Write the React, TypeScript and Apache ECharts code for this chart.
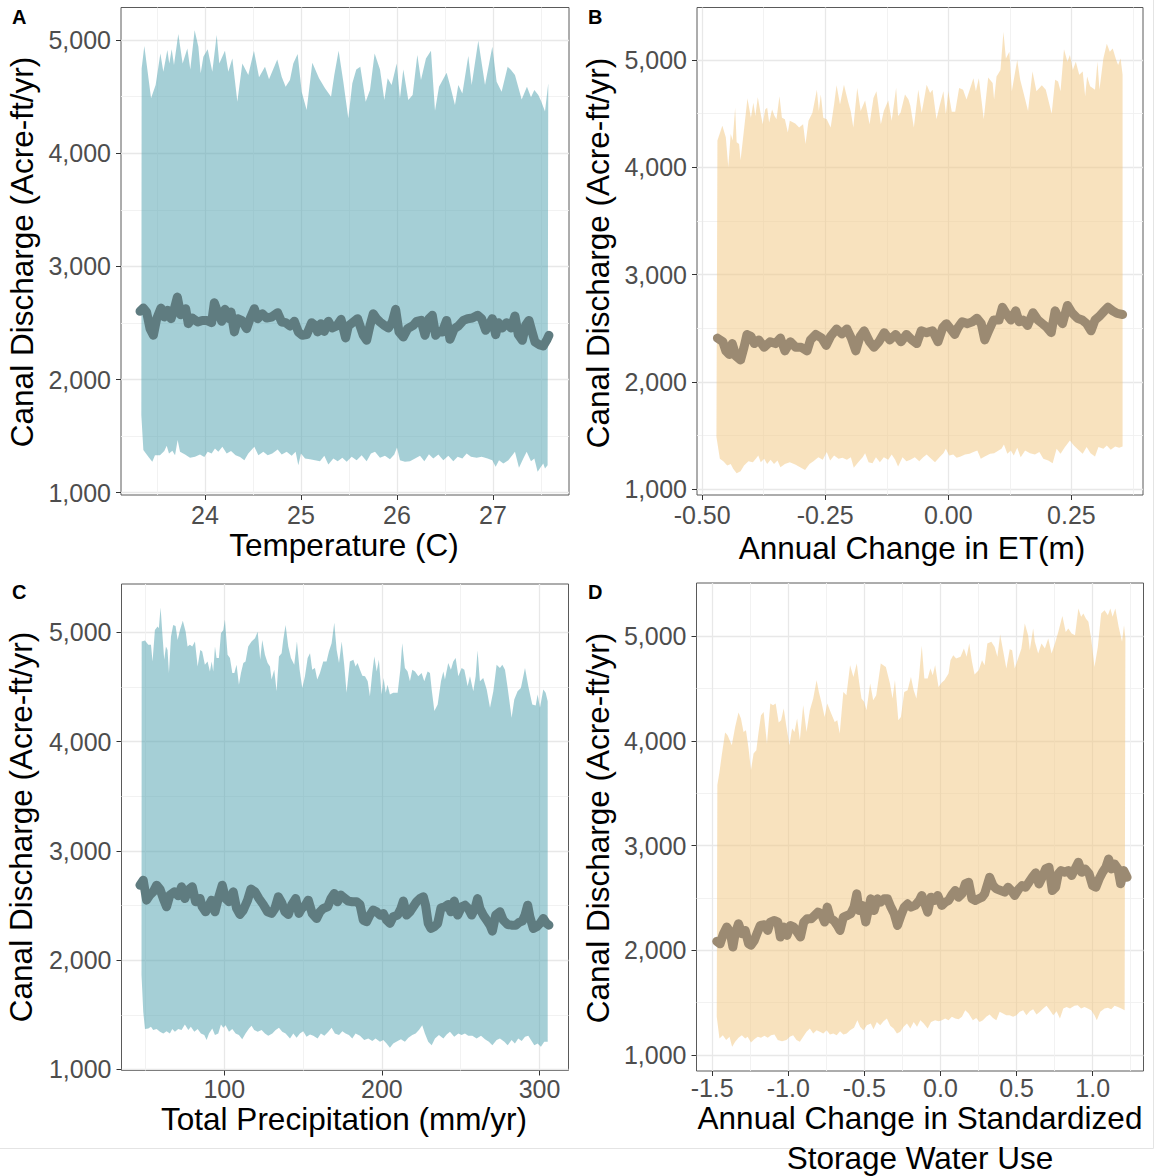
import React, { useEffect, useRef } from 'react';
import * as echarts from 'echarts';

type P = [number, number];

// ---------- Panel A: Temperature ----------
const tempUpper: P[] = [
  [23.340, 4750], [23.368, 4947], [23.438, 4485], [23.486, 4603], [23.535, 4882], [23.566, 4721], [23.608, 4912], [23.628, 4794],
  [23.653, 4918], [23.677, 4779], [23.722, 5053], [23.767, 4794], [23.816, 4926], [23.847, 4741], [23.892, 5088], [23.931, 4941],
  [23.955, 4706], [23.983, 4853], [24.028, 4918], [24.076, 4721], [24.122, 5044], [24.149, 4794], [24.208, 4906], [24.243, 4721],
  [24.285, 4838], [24.337, 4456], [24.389, 4794], [24.451, 4691], [24.510, 4906], [24.563, 4671], [24.625, 4765], [24.667, 4653],
  [24.753, 4829], [24.799, 4676], [24.840, 4588], [24.885, 4647], [24.920, 4794], [24.965, 4876], [25.007, 4544], [25.059, 4382],
  [25.118, 4800], [25.188, 4662], [25.250, 4574], [25.313, 4500], [25.347, 4691], [25.392, 4906], [25.441, 4632], [25.493, 4309],
  [25.535, 4618], [25.576, 4741], [25.618, 4765], [25.674, 4456], [25.719, 4559], [25.767, 4882], [25.823, 4741], [25.868, 4471],
  [25.903, 4662], [25.944, 4603], [25.997, 4794], [26.031, 4485], [26.066, 4741], [26.118, 4471], [26.163, 4515], [26.212, 4868],
  [26.250, 4647], [26.302, 4838], [26.354, 4906], [26.396, 4376], [26.438, 4588], [26.517, 4712], [26.552, 4603], [26.604, 4426],
  [26.639, 4603], [26.681, 4529], [26.743, 4859], [26.778, 4603], [26.847, 4994], [26.917, 4603], [26.993, 4941], [27.038, 4632],
  [27.090, 4544], [27.153, 4765], [27.188, 4735], [27.229, 4691], [27.299, 4476], [27.354, 4588], [27.396, 4494], [27.431, 4559],
  [27.472, 4515], [27.500, 4465], [27.542, 4368], [27.576, 4618],
];
const tempMedian: P[] = [
  [23.323, 2603], [23.358, 2632], [23.392, 2597], [23.427, 2450], [23.462, 2391], [23.497, 2538], [23.542, 2632], [23.576, 2553],
  [23.611, 2612], [23.646, 2538], [23.681, 2626], [23.712, 2729], [23.747, 2573], [23.799, 2626], [23.826, 2494], [23.868, 2544],
  [23.924, 2509], [23.972, 2523], [24.017, 2523], [24.069, 2503], [24.097, 2679], [24.132, 2597], [24.174, 2515], [24.208, 2621],
  [24.250, 2538], [24.271, 2597], [24.306, 2421], [24.340, 2538], [24.382, 2523], [24.434, 2450], [24.469, 2538], [24.514, 2626],
  [24.549, 2538], [24.597, 2582], [24.642, 2544], [24.694, 2553], [24.757, 2591], [24.799, 2509], [24.840, 2503], [24.885, 2474],
  [24.931, 2515], [24.972, 2421], [25.014, 2391], [25.059, 2397], [25.111, 2503], [25.146, 2479], [25.174, 2421], [25.208, 2494],
  [25.243, 2426], [25.285, 2515], [25.326, 2456], [25.372, 2474], [25.417, 2532], [25.465, 2368], [25.493, 2474], [25.545, 2509],
  [25.590, 2538], [25.649, 2391], [25.684, 2347], [25.719, 2479], [25.753, 2582], [25.788, 2538], [25.823, 2509], [25.868, 2479],
  [25.910, 2456], [25.951, 2509], [25.986, 2621], [26.021, 2421], [26.066, 2376], [26.111, 2450], [26.170, 2479], [26.205, 2515],
  [26.250, 2523], [26.292, 2391], [26.333, 2538], [26.368, 2568], [26.403, 2391], [26.431, 2426], [26.472, 2421], [26.517, 2523],
  [26.552, 2356], [26.597, 2450], [26.639, 2474], [26.691, 2523], [26.736, 2538], [26.785, 2544], [26.840, 2568], [26.882, 2538],
  [26.924, 2435], [26.958, 2485], [26.993, 2538], [27.028, 2397], [27.056, 2503], [27.097, 2456], [27.142, 2503], [27.188, 2456],
  [27.229, 2562], [27.264, 2397], [27.306, 2347], [27.340, 2479], [27.375, 2523], [27.403, 2435], [27.438, 2332], [27.479, 2309],
  [27.524, 2297], [27.559, 2347], [27.583, 2391],
];
const tempLower: P[] = [
  [23.337, 1685], [23.358, 1377], [23.410, 1318], [23.451, 1274], [23.479, 1332], [23.531, 1332], [23.576, 1368], [23.601, 1415],
  [23.625, 1347], [23.660, 1371], [23.688, 1332], [23.715, 1465], [23.740, 1362], [23.792, 1338], [23.844, 1309], [23.896, 1318],
  [23.948, 1338], [23.993, 1315], [24.028, 1362], [24.069, 1347], [24.104, 1391], [24.139, 1362], [24.181, 1406], [24.226, 1347],
  [24.271, 1368], [24.319, 1332], [24.365, 1315], [24.410, 1288], [24.451, 1347], [24.514, 1406], [24.556, 1332], [24.608, 1362],
  [24.653, 1332], [24.701, 1347], [24.757, 1382], [24.799, 1338], [24.851, 1362], [24.903, 1327], [24.944, 1362], [24.972, 1244],
  [25.000, 1347], [25.042, 1303], [25.094, 1297], [25.146, 1288], [25.198, 1279], [25.243, 1327], [25.285, 1250], [25.337, 1303],
  [25.382, 1279], [25.431, 1309], [25.476, 1274], [25.528, 1318], [25.580, 1288], [25.632, 1332], [25.684, 1279], [25.729, 1347],
  [25.771, 1362], [25.823, 1309], [25.875, 1327], [25.927, 1297], [25.972, 1338], [26.000, 1400], [26.031, 1288], [26.083, 1274],
  [26.135, 1279], [26.188, 1303], [26.240, 1327], [26.285, 1279], [26.333, 1341], [26.378, 1303], [26.431, 1338], [26.483, 1288],
  [26.535, 1327], [26.587, 1279], [26.632, 1318], [26.681, 1303], [26.726, 1347], [26.771, 1318], [26.830, 1309], [26.882, 1318],
  [26.944, 1303], [26.993, 1288], [27.028, 1229], [27.063, 1288], [27.108, 1259], [27.160, 1288], [27.201, 1332], [27.229, 1362],
  [27.271, 1221], [27.316, 1303], [27.351, 1362], [27.396, 1279], [27.431, 1303], [27.465, 1185], [27.500, 1229], [27.524, 1259],
  [27.542, 1215], [27.569, 1244],
];

// ---------- Panel B: Annual change in ET ----------
const etUpper: P[] = [
  [-0.469, 4250], [-0.459, 4387], [-0.452, 4279], [-0.447, 4003], [-0.442, 4310], [-0.438, 4249], [-0.433, 4555], [-0.430, 4233],
  [-0.425, 4218], [-0.422, 4065], [-0.416, 4310], [-0.408, 4641], [-0.401, 4463], [-0.396, 4601], [-0.392, 4479], [-0.387, 4653],
  [-0.381, 4494], [-0.377, 4402], [-0.372, 4540], [-0.368, 4555], [-0.364, 4417], [-0.358, 4540], [-0.353, 4479], [-0.349, 4448],
  [-0.343, 4663], [-0.338, 4463], [-0.332, 4448], [-0.326, 4325], [-0.322, 4433], [-0.311, 4408], [-0.303, 4371], [-0.295, 4402],
  [-0.290, 4218], [-0.284, 4433], [-0.276, 4509], [-0.267, 4724], [-0.263, 4525], [-0.259, 4678], [-0.254, 4463], [-0.247, 4448],
  [-0.239, 4371], [-0.232, 4586], [-0.227, 4764], [-0.220, 4586], [-0.212, 4770], [-0.203, 4601], [-0.198, 4518], [-0.193, 4371],
  [-0.185, 4739], [-0.178, 4525], [-0.169, 4623], [-0.160, 4402], [-0.152, 4647], [-0.146, 4709], [-0.137, 4402], [-0.131, 4525],
  [-0.122, 4623], [-0.115, 4433], [-0.106, 4739], [-0.102, 4479], [-0.097, 4509], [-0.088, 4678], [-0.081, 4632], [-0.077, 4571],
  [-0.070, 4371], [-0.061, 4724], [-0.054, 4509], [-0.044, 4770], [-0.037, 4693], [-0.032, 4724], [-0.024, 4448], [-0.017, 4586],
  [-0.010, 4709], [-0.005, 4494], [0.000, 4709], [0.007, 4518], [0.014, 4518], [0.022, 4739], [0.030, 4724], [0.037, 4632],
  [0.043, 4715], [0.051, 4831], [0.056, 4709], [0.062, 4831], [0.072, 4448], [0.081, 4837], [0.090, 4785], [0.093, 4632],
  [0.098, 4847], [0.106, 4908], [0.112, 5261], [0.117, 5015], [0.124, 5077], [0.129, 4709], [0.140, 5000], [0.146, 4816],
  [0.152, 4709], [0.162, 4525], [0.171, 4893], [0.179, 4709], [0.190, 4764], [0.198, 4724], [0.210, 4500], [0.217, 4816],
  [0.223, 4801], [0.228, 4709], [0.235, 5101], [0.242, 4985], [0.247, 5046], [0.253, 4908], [0.259, 4985], [0.266, 4862],
  [0.273, 4893], [0.278, 4663], [0.282, 4847], [0.288, 4755], [0.298, 4724], [0.303, 4985], [0.307, 4724], [0.315, 5015],
  [0.322, 5153], [0.328, 5077], [0.334, 5107], [0.341, 5000], [0.345, 4954], [0.350, 5015], [0.354, 4862],
];
const etMedian: P[] = [
  [-0.469, 2407], [-0.458, 2373], [-0.452, 2288], [-0.445, 2254], [-0.439, 2356], [-0.431, 2237], [-0.422, 2203], [-0.415, 2322],
  [-0.409, 2441], [-0.401, 2424], [-0.394, 2356], [-0.385, 2390], [-0.374, 2322], [-0.362, 2373], [-0.351, 2356], [-0.341, 2407],
  [-0.332, 2288], [-0.321, 2373], [-0.310, 2322], [-0.299, 2322], [-0.287, 2288], [-0.280, 2390], [-0.269, 2441], [-0.257, 2407],
  [-0.248, 2339], [-0.239, 2424], [-0.227, 2492], [-0.216, 2447], [-0.206, 2492], [-0.197, 2407], [-0.188, 2288], [-0.179, 2424],
  [-0.171, 2475], [-0.160, 2373], [-0.151, 2322], [-0.141, 2373], [-0.130, 2458], [-0.119, 2390], [-0.107, 2441], [-0.096, 2373],
  [-0.085, 2441], [-0.074, 2390], [-0.064, 2356], [-0.055, 2475], [-0.044, 2458], [-0.032, 2475], [-0.021, 2373], [-0.011, 2508],
  [-0.004, 2542], [0.005, 2492], [0.013, 2441], [0.020, 2508], [0.028, 2559], [0.039, 2542], [0.049, 2559], [0.058, 2593],
  [0.067, 2542], [0.074, 2390], [0.082, 2475], [0.092, 2576], [0.103, 2576], [0.110, 2695], [0.119, 2627], [0.127, 2576],
  [0.137, 2661], [0.144, 2559], [0.152, 2576], [0.161, 2525], [0.172, 2644], [0.182, 2576], [0.191, 2542], [0.200, 2508],
  [0.209, 2458], [0.217, 2661], [0.224, 2593], [0.232, 2542], [0.242, 2712], [0.251, 2644], [0.262, 2593], [0.272, 2576],
  [0.281, 2542], [0.290, 2475], [0.298, 2576], [0.307, 2610], [0.317, 2661], [0.324, 2695], [0.334, 2661], [0.343, 2637],
  [0.354, 2627],
];
const etLower: P[] = [
  [-0.471, 1484], [-0.464, 1281], [-0.457, 1259], [-0.449, 1219], [-0.442, 1234], [-0.437, 1188], [-0.430, 1147], [-0.422, 1166],
  [-0.415, 1219], [-0.406, 1259], [-0.397, 1250], [-0.391, 1281], [-0.386, 1313], [-0.381, 1250], [-0.374, 1281], [-0.368, 1234],
  [-0.361, 1272], [-0.354, 1234], [-0.347, 1266], [-0.341, 1203], [-0.332, 1234], [-0.322, 1250], [-0.311, 1228], [-0.301, 1203],
  [-0.291, 1178], [-0.282, 1234], [-0.274, 1259], [-0.264, 1297], [-0.255, 1272], [-0.247, 1344], [-0.240, 1266], [-0.232, 1313],
  [-0.223, 1281], [-0.215, 1291], [-0.206, 1272], [-0.198, 1297], [-0.192, 1197], [-0.183, 1250], [-0.174, 1297], [-0.169, 1334],
  [-0.162, 1250], [-0.154, 1241], [-0.147, 1297], [-0.139, 1250], [-0.131, 1297], [-0.122, 1272], [-0.115, 1322], [-0.108, 1272],
  [-0.102, 1209], [-0.093, 1297], [-0.085, 1259], [-0.077, 1272], [-0.068, 1297], [-0.059, 1259], [-0.051, 1297], [-0.044, 1322],
  [-0.037, 1291], [-0.027, 1250], [-0.018, 1297], [-0.010, 1334], [-0.005, 1375], [0.002, 1313], [0.010, 1322], [0.017, 1291],
  [0.025, 1303], [0.034, 1322], [0.043, 1328], [0.051, 1344], [0.059, 1359], [0.066, 1281], [0.074, 1303], [0.085, 1328],
  [0.093, 1334], [0.102, 1359], [0.108, 1375], [0.113, 1416], [0.120, 1328], [0.127, 1359], [0.133, 1313], [0.140, 1384],
  [0.147, 1297], [0.156, 1359], [0.166, 1334], [0.176, 1322], [0.185, 1344], [0.193, 1281], [0.203, 1266], [0.212, 1241],
  [0.220, 1375], [0.228, 1328], [0.237, 1391], [0.247, 1453], [0.255, 1406], [0.264, 1366], [0.273, 1328], [0.281, 1391],
  [0.289, 1334], [0.298, 1303], [0.305, 1391], [0.315, 1375], [0.322, 1406], [0.330, 1366], [0.339, 1397], [0.347, 1384],
  [0.354, 1397],
];

// ---------- Panel C: Total precipitation ----------
const precipUpper: P[] = [
  [47.6, 4915], [49.7, 4924], [51.8, 4885], [53.5, 4885], [54.5, 4733], [56.0, 5021], [57.7, 5052], [58.5, 5036], [59.6, 5227],
  [60.7, 4991], [61.9, 4749], [63.0, 4870], [64.0, 4839], [64.9, 4627], [66.2, 4961], [67.6, 5067], [69.1, 5058], [70.4, 4930],
  [71.9, 5021], [73.7, 5106], [75.5, 5006], [76.7, 4870], [78.2, 4885], [79.7, 4870], [81.4, 4915], [83.1, 4688], [84.8, 4839],
  [86.0, 4824], [87.7, 4703], [89.4, 4733], [90.9, 4642], [92.0, 4733], [93.0, 4642], [94.1, 4870], [95.1, 4764], [96.6, 4764],
  [97.9, 4991], [99.4, 5021], [100.4, 5118], [102.1, 4794], [103.6, 4764], [105.1, 4627], [106.4, 4627], [107.8, 4703],
  [109.3, 4521], [110.6, 4627], [112.1, 4718], [113.5, 4733], [115.2, 4870], [117.3, 4915], [119.5, 4945], [121.2, 5006],
  [122.8, 4749], [124.1, 4930], [125.8, 4794], [127.5, 4718], [129.0, 4688], [130.0, 4567], [131.7, 4658], [133.2, 4461],
  [134.7, 4779], [136.4, 4809], [137.4, 4930], [138.9, 5067], [140.6, 4870], [142.3, 4764], [144.4, 4703], [146.1, 4915],
  [147.8, 4658], [149.5, 4491], [151.2, 4597], [152.9, 4764], [154.4, 4809], [155.8, 4658], [157.5, 4673], [159.0, 4567],
  [160.7, 4627], [162.8, 4733], [164.9, 4733], [166.4, 4824], [168.1, 4900], [169.8, 5088], [171.3, 4839], [172.8, 4718],
  [174.5, 4915], [176.1, 4703], [177.6, 4446], [179.7, 4733], [181.9, 4749], [183.3, 4688], [184.6, 4718], [186.1, 4658],
  [187.6, 4603], [189.3, 4597], [191.0, 4552], [192.4, 4415], [193.9, 4627], [195.2, 4779], [196.7, 4642], [198.1, 4749],
  [199.8, 4430], [201.1, 4582], [202.4, 4446], [203.6, 4521], [205.1, 4430], [207.2, 4446], [210.0, 4446], [211.7, 4658],
  [212.9, 4900], [214.6, 4673], [216.3, 4642], [217.8, 4552], [219.3, 4658], [221.0, 4642], [223.1, 4597], [225.2, 4627],
  [226.9, 4552], [229.0, 4642], [230.5, 4627], [231.6, 4476], [233.3, 4279], [235.4, 4339], [237.5, 4552], [239.0, 4642],
  [240.0, 4567], [242.1, 4718], [243.8, 4658], [245.3, 4733], [246.8, 4764], [248.5, 4597], [250.6, 4673], [252.3, 4658],
  [254.4, 4506], [255.9, 4597], [258.0, 4461], [259.5, 4597], [260.7, 4833], [262.2, 4552], [264.3, 4582], [266.5, 4476],
  [268.6, 4309], [270.7, 4461], [272.8, 4703], [274.9, 4673], [276.4, 4703], [278.1, 4658], [279.8, 4491], [282.3, 4218],
  [284.0, 4385], [286.1, 4461], [288.2, 4491], [290.8, 4673], [292.9, 4506], [295.4, 4339], [297.6, 4330], [298.8, 4430],
  [300.3, 4309], [302.4, 4476], [303.9, 4446], [305.2, 4370],
];
const precipMedian: P[] = [
  [46.5, 2686], [48.6, 2732], [50.7, 2549], [52.8, 2595], [54.9, 2625], [57.1, 2686], [59.2, 2650], [61.3, 2564], [63.4, 2488],
  [65.5, 2595], [68.3, 2625], [70.8, 2589], [72.9, 2671], [75.0, 2564], [77.2, 2641], [79.7, 2671], [81.8, 2534], [84.6, 2564],
  [86.0, 2488], [88.2, 2442], [90.3, 2503], [92.0, 2549], [94.1, 2442], [96.2, 2564], [98.7, 2686], [100.8, 2564], [103.0, 2534],
  [105.7, 2625], [107.8, 2473], [109.9, 2418], [112.1, 2458], [114.8, 2549], [116.9, 2650], [119.5, 2625], [122.0, 2564],
  [124.7, 2509], [127.5, 2442], [130.0, 2427], [132.1, 2473], [134.3, 2580], [136.4, 2528], [138.5, 2442], [140.6, 2418],
  [142.7, 2503], [145.3, 2564], [147.4, 2427], [149.1, 2473], [151.2, 2497], [153.3, 2549], [155.8, 2427], [158.6, 2381],
  [160.7, 2442], [162.8, 2473], [165.6, 2488], [167.7, 2564], [169.8, 2610], [171.9, 2534], [174.0, 2595], [176.6, 2564],
  [178.7, 2540], [181.2, 2534], [184.0, 2534], [186.1, 2509], [188.2, 2366], [190.3, 2351], [192.4, 2412], [194.5, 2458],
  [196.7, 2442], [198.8, 2412], [200.9, 2427], [203.0, 2366], [205.1, 2336], [207.2, 2397], [210.0, 2412], [212.1, 2473],
  [213.6, 2540], [215.7, 2412], [217.8, 2442], [219.9, 2488], [222.0, 2534], [224.2, 2564], [226.3, 2580], [227.7, 2503],
  [229.4, 2336], [231.1, 2290], [233.2, 2305], [235.4, 2336], [237.5, 2479], [240.0, 2488], [242.1, 2509], [243.8, 2442],
  [245.9, 2540], [248.1, 2412], [250.6, 2488], [252.7, 2503], [254.8, 2473], [256.9, 2412], [259.1, 2473], [260.7, 2564],
  [262.2, 2473], [264.3, 2412], [266.5, 2366], [268.6, 2320], [270.1, 2265], [272.2, 2412], [274.9, 2442], [277.0, 2366],
  [279.8, 2326], [282.3, 2320], [284.9, 2320], [287.0, 2345], [289.1, 2357], [290.8, 2412], [292.5, 2503], [293.9, 2397],
  [296.1, 2290], [298.2, 2305], [300.3, 2336], [302.4, 2381], [304.5, 2336], [306.0, 2320],
];
const precipLower: P[] = [
  [47.5, 1863], [48.6, 1527], [49.7, 1369], [51.8, 1375], [53.5, 1390], [54.9, 1360], [57.1, 1369], [59.2, 1344], [61.3, 1329],
  [63.4, 1350], [65.5, 1329], [67.0, 1369], [68.7, 1344], [70.8, 1369], [72.9, 1360], [75.0, 1411], [77.2, 1360], [78.8, 1390],
  [81.0, 1344], [83.1, 1369], [85.2, 1329], [87.3, 1314], [88.8, 1268], [90.3, 1329], [92.4, 1375], [94.1, 1314], [96.2, 1329],
  [97.9, 1411], [99.4, 1381], [100.8, 1405], [103.0, 1344], [105.1, 1369], [107.2, 1329], [109.3, 1314], [111.4, 1277],
  [113.5, 1329], [115.7, 1375], [117.3, 1399], [119.0, 1360], [121.2, 1344], [123.7, 1360], [125.8, 1329], [127.9, 1308],
  [130.5, 1329], [132.6, 1360], [134.7, 1381], [136.8, 1344], [138.9, 1329], [141.7, 1283], [143.8, 1329], [145.9, 1289],
  [148.0, 1329], [150.1, 1350], [152.2, 1299], [154.4, 1320], [156.5, 1308], [159.2, 1283], [161.3, 1329], [163.5, 1308],
  [166.0, 1344], [168.1, 1381], [170.2, 1329], [172.8, 1314], [174.9, 1350], [177.0, 1329], [179.1, 1314], [181.2, 1283],
  [183.3, 1329], [186.1, 1308], [188.8, 1268], [191.4, 1283], [193.9, 1259], [196.0, 1283], [198.8, 1253], [200.9, 1268],
  [203.0, 1238], [205.1, 1198], [207.2, 1238], [210.0, 1259], [212.1, 1277], [214.6, 1253], [216.8, 1289], [219.3, 1314],
  [221.4, 1329], [223.5, 1360], [225.6, 1405], [227.3, 1329], [229.4, 1253], [231.6, 1222], [233.7, 1283], [236.2, 1314],
  [239.0, 1283], [241.1, 1320], [243.2, 1344], [245.9, 1299], [248.5, 1329], [250.6, 1314], [252.7, 1329], [254.8, 1308],
  [257.4, 1308], [260.1, 1283], [262.9, 1308], [265.4, 1277], [267.9, 1253], [270.1, 1222], [272.8, 1268], [274.9, 1283],
  [277.7, 1253], [279.8, 1222], [282.3, 1268], [284.4, 1238], [286.5, 1283], [288.7, 1259], [290.8, 1299], [292.9, 1308],
  [294.6, 1268], [296.7, 1222], [298.8, 1238], [300.9, 1207], [303.0, 1253], [305.2, 1253],
];

// ---------- Panel D: Standardized storage water use ----------
const storageUpper: P[] = [
  [-1.466, 3580], [-1.452, 3704], [-1.437, 3863], [-1.415, 4080], [-1.399, 4054], [-1.371, 3959], [-1.349, 4134], [-1.327, 4271],
  [-1.311, 4213], [-1.294, 4086], [-1.278, 4102], [-1.261, 3927], [-1.245, 3720], [-1.228, 3879], [-1.210, 3911], [-1.195, 4086],
  [-1.179, 4245], [-1.162, 4277], [-1.140, 3974], [-1.118, 4357], [-1.100, 4341], [-1.083, 4357], [-1.063, 4175], [-1.047, 4197],
  [-1.030, 4309], [-1.012, 4134], [-0.992, 3959], [-0.975, 4118], [-0.959, 4086], [-0.942, 4213], [-0.924, 4006], [-0.902, 4341],
  [-0.880, 4086], [-0.858, 4293], [-0.836, 4404], [-0.814, 4580], [-0.799, 4468], [-0.783, 4373], [-0.761, 4229], [-0.744, 4357],
  [-0.722, 4277], [-0.695, 4181], [-0.678, 4197], [-0.662, 4070], [-0.638, 4468], [-0.618, 4436], [-0.594, 4723], [-0.572, 4611],
  [-0.550, 4739], [-0.535, 4564], [-0.519, 4404], [-0.502, 4373], [-0.486, 4293], [-0.462, 4548], [-0.442, 4388], [-0.422, 4436],
  [-0.392, 4739], [-0.359, 4707], [-0.332, 4548], [-0.315, 4404], [-0.299, 4580], [-0.277, 4197], [-0.260, 4229], [-0.238, 4468],
  [-0.216, 4484], [-0.194, 4611], [-0.176, 4484], [-0.158, 4404], [-0.141, 4611], [-0.123, 4908], [-0.106, 4596], [-0.084, 4596],
  [-0.066, 4691], [-0.051, 4627], [-0.035, 4723], [-0.013, 4516], [0.009, 4557], [0.026, 4580], [0.053, 4643], [0.066, 4771],
  [0.084, 4818], [0.103, 4787], [0.132, 4803], [0.154, 4882], [0.172, 4803], [0.189, 4930], [0.207, 4755], [0.224, 4634],
  [0.251, 4675], [0.273, 4771], [0.290, 4723], [0.308, 4930], [0.334, 4946], [0.356, 4898], [0.374, 4803], [0.392, 5016],
  [0.411, 4866], [0.433, 4691], [0.455, 4876], [0.471, 4866], [0.488, 4691], [0.510, 4787], [0.532, 4882], [0.554, 5121],
  [0.576, 5010], [0.587, 4866], [0.609, 5073], [0.620, 4946], [0.642, 4834], [0.664, 4930], [0.686, 4882], [0.708, 4978],
  [0.730, 4834], [0.752, 4930], [0.774, 5041], [0.801, 5194], [0.823, 5041], [0.840, 5073], [0.862, 5025], [0.884, 5010],
  [0.906, 5264], [0.924, 5185], [0.939, 5217], [0.955, 5169], [0.972, 5137], [0.990, 4978], [1.012, 4707], [1.034, 4898],
  [1.056, 5217], [1.078, 5248], [1.100, 5201], [1.116, 5264], [1.131, 5185], [1.149, 5264], [1.171, 5089], [1.193, 4946],
  [1.206, 5105], [1.215, 4978],
];
const storageMedian: P[] = [
  [-1.470, 2086], [-1.448, 2063], [-1.426, 2159], [-1.404, 2222], [-1.382, 2175], [-1.364, 2032], [-1.349, 2159], [-1.327, 2254],
  [-1.305, 2159], [-1.283, 2190], [-1.261, 2063], [-1.245, 2048], [-1.223, 2095], [-1.206, 2159], [-1.184, 2238], [-1.157, 2244],
  [-1.135, 2190], [-1.118, 2270], [-1.091, 2286], [-1.069, 2270], [-1.052, 2127], [-1.030, 2222], [-1.008, 2143], [-0.986, 2238],
  [-0.964, 2222], [-0.942, 2175], [-0.920, 2127], [-0.898, 2270], [-0.876, 2302], [-0.849, 2302], [-0.827, 2333], [-0.805, 2365],
  [-0.783, 2349], [-0.761, 2270], [-0.744, 2413], [-0.722, 2302], [-0.700, 2286], [-0.678, 2238], [-0.660, 2190], [-0.638, 2317],
  [-0.612, 2333], [-0.590, 2349], [-0.568, 2413], [-0.550, 2540], [-0.535, 2381], [-0.513, 2429], [-0.491, 2270], [-0.475, 2381],
  [-0.458, 2492], [-0.436, 2381], [-0.414, 2492], [-0.392, 2460], [-0.370, 2492], [-0.348, 2492], [-0.326, 2413], [-0.304, 2349],
  [-0.282, 2238], [-0.260, 2333], [-0.238, 2413], [-0.216, 2444], [-0.194, 2413], [-0.167, 2429], [-0.139, 2476], [-0.123, 2524],
  [-0.106, 2460], [-0.084, 2365], [-0.062, 2508], [-0.040, 2476], [-0.018, 2524], [0.009, 2429], [0.031, 2460], [0.053, 2476],
  [0.075, 2530], [0.097, 2571], [0.119, 2508], [0.141, 2540], [0.163, 2635], [0.185, 2651], [0.207, 2492], [0.229, 2476],
  [0.251, 2492], [0.273, 2508], [0.290, 2540], [0.308, 2625], [0.323, 2698], [0.345, 2619], [0.367, 2587], [0.396, 2571],
  [0.422, 2556], [0.444, 2603], [0.466, 2571], [0.488, 2524], [0.515, 2587], [0.537, 2619], [0.559, 2603], [0.581, 2651],
  [0.603, 2698], [0.625, 2740], [0.647, 2635], [0.669, 2698], [0.691, 2778], [0.713, 2794], [0.735, 2571], [0.757, 2603],
  [0.774, 2730], [0.792, 2762], [0.818, 2746], [0.840, 2762], [0.862, 2714], [0.884, 2778], [0.906, 2841], [0.928, 2746],
  [0.950, 2778], [0.977, 2730], [0.999, 2619], [1.021, 2603], [1.043, 2683], [1.065, 2746], [1.087, 2794], [1.105, 2873],
  [1.122, 2778], [1.144, 2825], [1.166, 2778], [1.184, 2635], [1.204, 2762], [1.226, 2698],
];
const storageLower: P[] = [
  [-1.470, 1365], [-1.452, 1159], [-1.430, 1190], [-1.408, 1143], [-1.386, 1174], [-1.369, 1079], [-1.349, 1127], [-1.327, 1165],
  [-1.305, 1190], [-1.283, 1159], [-1.267, 1174], [-1.245, 1120], [-1.223, 1152], [-1.201, 1174], [-1.179, 1165], [-1.157, 1184],
  [-1.135, 1165], [-1.113, 1190], [-1.091, 1197], [-1.069, 1143], [-1.041, 1133], [-1.012, 1143], [-0.990, 1174], [-0.968, 1190],
  [-0.946, 1143], [-0.924, 1127], [-0.902, 1174], [-0.880, 1222], [-0.858, 1254], [-0.836, 1206], [-0.814, 1238], [-0.792, 1222],
  [-0.770, 1206], [-0.748, 1238], [-0.726, 1197], [-0.704, 1206], [-0.682, 1190], [-0.660, 1228], [-0.638, 1197], [-0.616, 1206],
  [-0.594, 1238], [-0.568, 1260], [-0.546, 1333], [-0.528, 1270], [-0.506, 1238], [-0.484, 1286], [-0.458, 1301], [-0.440, 1247],
  [-0.418, 1317], [-0.396, 1286], [-0.374, 1324], [-0.352, 1349], [-0.330, 1279], [-0.308, 1254], [-0.286, 1206], [-0.264, 1222],
  [-0.242, 1270], [-0.220, 1301], [-0.198, 1254], [-0.176, 1317], [-0.154, 1270], [-0.132, 1333], [-0.110, 1301], [-0.084, 1254],
  [-0.062, 1317], [-0.035, 1333], [-0.013, 1324], [0.009, 1333], [0.031, 1349], [0.053, 1333], [0.075, 1365], [0.097, 1349],
  [0.119, 1343], [0.141, 1365], [0.163, 1428], [0.185, 1397], [0.213, 1333], [0.235, 1355], [0.257, 1317], [0.279, 1333],
  [0.301, 1365], [0.323, 1387], [0.345, 1355], [0.367, 1333], [0.389, 1413], [0.411, 1397], [0.433, 1381], [0.455, 1381],
  [0.477, 1365], [0.499, 1381], [0.521, 1413], [0.543, 1428], [0.565, 1381], [0.587, 1419], [0.609, 1438], [0.631, 1387],
  [0.653, 1413], [0.675, 1444], [0.697, 1470], [0.719, 1428], [0.741, 1381], [0.763, 1419], [0.785, 1349], [0.807, 1444],
  [0.829, 1460], [0.851, 1444], [0.880, 1470], [0.902, 1476], [0.924, 1444], [0.946, 1460], [0.968, 1444], [0.990, 1428],
  [1.012, 1381], [1.027, 1333], [1.050, 1413], [1.078, 1444], [1.100, 1451], [1.122, 1438], [1.144, 1470], [1.166, 1460],
  [1.188, 1444], [1.210, 1428],
];

// ---------- Ticks & labels ----------
const yTicks = [1000, 2000, 3000, 4000, 5000];
const yMinorTicks = [1500, 2500, 3500, 4500];
const tempTicks = [24, 25, 26, 27];
const tempMinor = [23.5, 24.5, 25.5, 26.5, 27.5];
const etTicks = [-0.5, -0.25, 0, 0.25];
const etMinor = [-0.375, -0.125, 0.125, 0.375];
const precipTicks = [100, 200, 300];
const precipMinor = [50, 150, 250];
const storageTicks = [-1.5, -1.0, -0.5, 0, 0.5, 1.0];
const storageMinor = [-1.25, -0.75, -0.25, 0.25, 0.75, 1.25];

const panelLetters = ['A', 'B', 'C', 'D'];
const xTitles: string[][] = [
  ['Temperature (C)'],
  ['Annual Change in ET(m)'],
  ['Total Precipitation (mm/yr)'],
  ['Annual Change in Standardized', 'Storage Water Use'],
];
const yTitle = 'Canal Discharge (Acre-ft/yr)';

const FONT = "'Liberation Sans', Arial, Helvetica, sans-serif";
const TEAL_FILL = 'rgba(75,160,174,0.5)';
const WHEAT_FILL = 'rgba(241,197,125,0.5)';
const TEAL_LINE = '#5F7C80';
const WHEAT_LINE = '#9B8A72';

interface PanelCfg {
  grid: { left: number; top: number; width: number; height: number };
  xRange: [number, number];
  yRange: [number, number];
  xTicks: number[];
  xMinor: number[];
  xFmt: (v: number) => string;
  upper: P[];
  median: P[];
  lower: P[];
  fill: string;
  line: string;
  letterPos: [number, number];
  yTitlePos: [number, number];
  xTitlePos: [number, number];
  xLabelMargin: number;
}

const panels: PanelCfg[] = [
  {
    grid: { left: 121, top: 7.5, width: 448, height: 487.5 },
    xRange: [23.125, 27.792], yRange: [980, 5288],
    xTicks: tempTicks, xMinor: tempMinor, xFmt: (v) => String(v),
    upper: tempUpper, median: tempMedian, lower: tempLower,
    fill: TEAL_FILL, line: TEAL_LINE,
    letterPos: [12, 17], yTitlePos: [22, 252], xTitlePos: [344, 545], xLabelMargin: 7,
  },
  {
    grid: { left: 697, top: 7.5, width: 446, height: 487.5 },
    xRange: [-0.5105, 0.3955], yRange: [944, 5490],
    xTicks: etTicks, xMinor: etMinor, xFmt: (v) => v.toFixed(2),
    upper: etUpper, median: etMedian, lower: etLower,
    fill: WHEAT_FILL, line: WHEAT_LINE,
    letterPos: [588, 17], yTitlePos: [598, 253], xTitlePos: [912, 548], xLabelMargin: 7,
  },
  {
    grid: { left: 121.5, top: 584, width: 447, height: 486.5 },
    xRange: [34.8, 318.4], yRange: [990, 5442],
    xTicks: precipTicks, xMinor: precipMinor, xFmt: (v) => String(v),
    upper: precipUpper, median: precipMedian, lower: precipLower,
    fill: TEAL_FILL, line: TEAL_LINE,
    letterPos: [12, 592], yTitlePos: [21, 827], xTitlePos: [344, 1119], xLabelMargin: 6,
  },
  {
    grid: { left: 696.5, top: 583, width: 447, height: 488 },
    xRange: [-1.603, 1.334], yRange: [848, 5508],
    xTicks: storageTicks, xMinor: storageMinor, xFmt: (v) => v.toFixed(1),
    upper: storageUpper, median: storageMedian, lower: storageLower,
    fill: WHEAT_FILL, line: WHEAT_LINE,
    letterPos: [588, 592], yTitlePos: [598, 828], xTitlePos: [920, 1118], xLabelMargin: 4,
  },
];

function buildOption(): echarts.EChartsOption {
  const grids: any[] = [];
  const xAxes: any[] = [];
  const yAxes: any[] = [];
  const series: any[] = [];
  const graphics: any[] = [];

  panels.forEach((p, i) => {
    grids.push({
      ...p.grid,
      show: true,
      borderColor: '#5a5a5a',
      borderWidth: 1,
      backgroundColor: 'transparent',
      containLabel: false,
    });
    xAxes.push({
      gridIndex: i, type: 'value', min: p.xRange[0], max: p.xRange[1], position: 'bottom',
      axisLine: { show: false, onZero: false },
      axisTick: { show: true, length: 5, lineStyle: { color: '#333333', width: 1 }, customValues: p.xTicks },
      axisLabel: {
        show: true, customValues: p.xTicks, margin: p.xLabelMargin, color: '#4D4D4D', fontSize: 25, fontFamily: FONT,
        formatter: (v: number) => p.xFmt(v),
      },
      splitLine: { show: true, lineStyle: { color: '#E8E8E8', width: 1.3 } },
    });
    yAxes.push({
      gridIndex: i, type: 'value', min: p.yRange[0], max: p.yRange[1], position: 'left',
      axisLine: { show: false, onZero: false },
      axisTick: { show: true, length: 5, lineStyle: { color: '#333333', width: 1 }, customValues: yTicks },
      axisLabel: {
        show: true, customValues: yTicks, margin: 10, color: '#4D4D4D', fontSize: 25, fontFamily: FONT,
        formatter: (v: number) => v.toLocaleString('en-US'),
      },
      splitLine: { show: true, lineStyle: { color: '#E8E8E8', width: 1.3 } },
    });
  });
  panels.forEach((p, i) => {
    xAxes.push({
      gridIndex: i, type: 'value', min: p.xRange[0], max: p.xRange[1], position: 'top',
      axisLine: { show: false, onZero: false },
      axisTick: { show: false, customValues: p.xMinor },
      axisLabel: { show: false, customValues: p.xMinor },
      splitLine: { show: true, lineStyle: { color: '#F0F0F0', width: 0.9 } },
    });
    yAxes.push({
      gridIndex: i, type: 'value', min: p.yRange[0], max: p.yRange[1], position: 'right',
      axisLine: { show: false, onZero: false },
      axisTick: { show: false, customValues: yMinorTicks },
      axisLabel: { show: false, customValues: yMinorTicks },
      splitLine: { show: true, lineStyle: { color: '#F0F0F0', width: 0.9 } },
    });
  });

  panels.forEach((p, i) => {
    series.push({
      type: 'custom',
      xAxisIndex: i,
      yAxisIndex: i,
      silent: true,
      z: 2,
      data: [[p.upper[0][0], p.upper[0][1]]],
      renderItem: (_params: any, api: any) => {
        const pts: number[][] = p.upper.map((pt) => api.coord(pt));
        for (let k = p.lower.length - 1; k >= 0; k--) pts.push(api.coord(p.lower[k]));
        return { type: 'polygon', shape: { points: pts }, style: { fill: p.fill, stroke: 'none' } };
      },
    });
    series.push({
      type: 'line',
      xAxisIndex: i,
      yAxisIndex: i,
      data: p.median,
      showSymbol: false,
      symbol: 'none',
      silent: true,
      z: 3,
      lineStyle: { color: p.line, width: 9, cap: 'round', join: 'round' },
    });

    graphics.push({
      type: 'text', x: p.letterPos[0], y: p.letterPos[1],
      style: { text: panelLetters[i], fontSize: 20, fontWeight: 'bold', fontFamily: FONT, fill: '#000', align: 'left', verticalAlign: 'middle' },
    });
    graphics.push({
      type: 'text', x: p.yTitlePos[0], y: p.yTitlePos[1], rotation: Math.PI / 2,
      style: { text: yTitle, fontSize: 31.5, fontFamily: FONT, fill: '#000', align: 'center', verticalAlign: 'middle' },
    });
    xTitles[i].forEach((line, li) => {
      graphics.push({
        type: 'text', x: p.xTitlePos[0], y: p.xTitlePos[1] + li * 40,
        style: {
          text: line, fontSize: 31.5, lineHeight: 29, fontFamily: FONT, fill: '#000',
          align: 'center', verticalAlign: 'middle',
        },
      });
    });
  });

  graphics.push({ type: 'line', shape: { x1: 0, y1: 1148.5, x2: 1153.5, y2: 1148.5 }, style: { stroke: '#E4E4E4', lineWidth: 1 }, z: -1 });
  graphics.push({ type: 'line', shape: { x1: 1153.5, y1: 0, x2: 1153.5, y2: 1148.5 }, style: { stroke: '#E4E4E4', lineWidth: 1 }, z: -1 });

  return {
    animation: false,
    backgroundColor: '#ffffff',
    textStyle: { fontFamily: FONT },
    grid: grids,
    xAxis: xAxes,
    yAxis: yAxes,
    series,
    graphic: graphics,
  } as any;
}

export default function App() {
  const ref = useRef<HTMLDivElement>(null);
  useEffect(() => {
    if (!ref.current) return;
    const chart = echarts.init(ref.current, undefined, { renderer: 'svg' });
    chart.setOption(buildOption());
    return () => chart.dispose();
  }, []);
  return (
    <div
      ref={ref}
      style={{ position: 'absolute', left: 0, top: 0, width: 1156, height: 1176, background: '#fff' }}
    />
  );
}
